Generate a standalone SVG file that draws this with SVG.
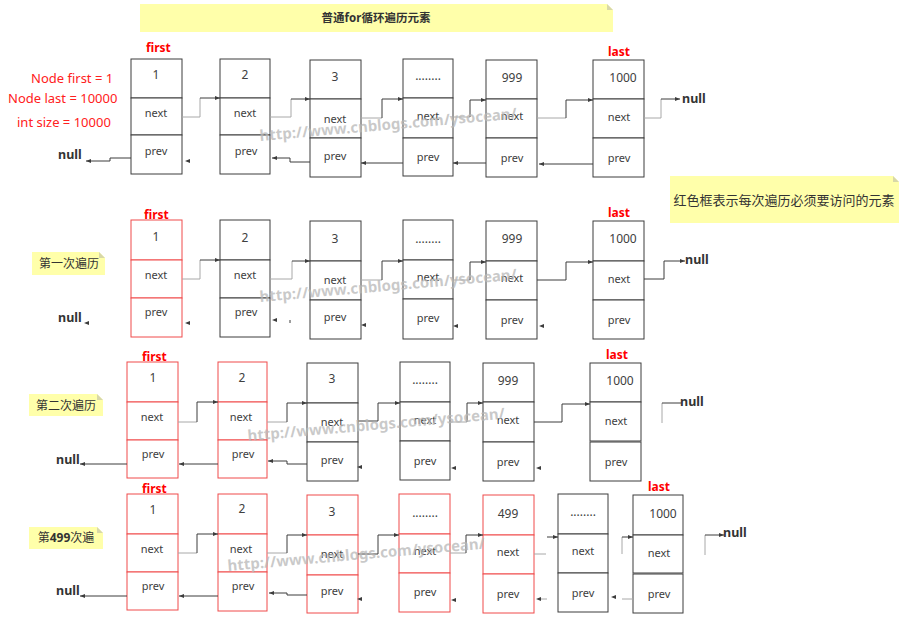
<svg xmlns="http://www.w3.org/2000/svg" width="903" height="617" viewBox="0 0 903 617">
<style>
text{font-family:"Noto Sans","Noto Sans CJK SC",sans-serif}
.b{fill:#fff;stroke:#3c3c3c;stroke-width:1}
.r{fill:#fff;stroke:#f04a4a;stroke-width:1}
.t{font-size:11px;fill:#404040;text-anchor:middle}
.n{font-size:12px;fill:#404040;text-anchor:middle}
.red{font-size:13px;fill:#ff2020}
.lab{font-size:12px;font-weight:bold;fill:#ff0000}
.nul{font-size:12.5px;font-weight:bold;fill:#333}
.note{fill:#ffffaa}
.fold{fill:#d8d8a8}
.cn{font-size:12px;fill:#333;text-anchor:middle}
.lg{fill:none;stroke:#a8a8a8;stroke-width:1}
.dk{fill:none;stroke:#3c3c3c;stroke-width:1}
.ah{fill:#3c3c3c}
.wm{font-size:15px;font-weight:bold;fill:#b8b8b8;fill-opacity:0.75}
</style>
<defs>
<marker id="a" markerWidth="6" markerHeight="6" refX="5" refY="3" orient="auto" markerUnits="userSpaceOnUse">
<path d="M0,1 L5,3 L0,5 Z" fill="#3c3c3c"/>
</marker>
</defs>

<!-- notes -->
<g id="title">
<polygon class="note" points="140,4 607,4 613,10 613,32 140,32"/>
<polygon class="fold" points="607,4 613,10 607,10"/>
<text x="376" y="22" style="font-size:11.5px;font-weight:bold;fill:#333;text-anchor:middle">普通for循环遍历元素</text>
</g>
<g id="note-red">
<polygon class="note" points="670,176 893,176 899,182 899,223 670,223"/>
<polygon class="fold" points="893,176 899,182 893,182"/>
<text x="784" y="205" style="font-size:13px;fill:#333;text-anchor:middle">红色框表示每次遍历必须要访问的元素</text>
</g>
<g id="label1">
<polygon class="note" points="32,252 99,252 105,258 105,275 32,275"/>
<polygon class="fold" points="99,252 105,258 99,258"/>
<text class="cn" x="69" y="268">第一次遍历</text>
</g>
<g id="label2">
<polygon class="note" points="29,394 97,394 103,400 103,416 29,416"/>
<polygon class="fold" points="97,394 103,400 97,400"/>
<text class="cn" x="66" y="410">第二次遍历</text>
</g>
<g id="label3">
<polygon class="note" points="29,527 97,527 103,533 103,549 29,549"/>
<polygon class="fold" points="97,527 103,533 97,533"/>
<text class="cn" x="66" y="542">第<tspan font-weight="bold">499</tspan>次遍</text>
</g>

<g id="vars">
<text class="red" x="31" y="83">Node first = 1</text>
<text class="red" x="8" y="103">Node last = 10000</text>
<text class="red" x="17" y="127">int size = 10000</text>
</g>

<!-- labels -->
<g id="labels">
<text class="lab" x="146" y="52">first</text>
<text class="lab" x="608" y="56">last</text>
<text class="lab" x="144" y="219">first</text>
<text class="lab" x="608" y="217">last</text>
<text class="lab" x="142" y="361">first</text>
<text class="lab" x="606" y="359">last</text>
<text class="lab" x="142" y="493">first</text>
<text class="lab" x="648" y="491">last</text>
<text class="nul" x="58" y="159">null</text>
<text class="nul" x="682" y="103">null</text>
<text class="nul" x="58" y="322">null</text>
<text class="nul" x="685" y="264">null</text>
<text class="nul" x="56" y="464">null</text>
<text class="nul" x="680" y="406">null</text>
<text class="nul" x="56" y="595">null</text>
<text class="nul" x="723" y="537">null</text>
</g>

<!-- Row 1 -->
<g id="r1n1"><rect class="b" x="131" y="59" width="51" height="39"/><rect class="b" x="131" y="98" width="51" height="37"/><rect class="b" x="131" y="135" width="51" height="39"/>
<text class="n" x="156" y="79">1</text><text class="t" x="156" y="117">next</text><text class="t" x="156" y="155">prev</text></g>
<g id="r1n2"><rect class="b" x="220" y="59" width="50" height="39"/><rect class="b" x="220" y="98" width="50" height="37"/><rect class="b" x="220" y="135" width="50" height="39"/>
<text class="n" x="245" y="79">2</text><text class="t" x="245" y="117">next</text><text class="t" x="246" y="155">prev</text></g>
<g id="r1n3"><rect class="b" x="310" y="60" width="51" height="39"/><rect class="b" x="310" y="99" width="51" height="39"/><rect class="b" x="310" y="138" width="51" height="39"/>
<text class="n" x="335" y="81">3</text><text class="t" x="335" y="123">next</text><text class="t" x="335" y="160">prev</text></g>
<g id="r1n4"><rect class="b" x="403" y="59" width="50" height="39"/><rect class="b" x="403" y="98" width="50" height="40"/><rect class="b" x="403" y="138" width="50" height="38"/>
<text class="n" x="428" y="80">........</text><text class="t" x="428" y="120">next</text><text class="t" x="428" y="161">prev</text></g>
<g id="r1n5"><rect class="b" x="486" y="60" width="51" height="39"/><rect class="b" x="486" y="99" width="51" height="39"/><rect class="b" x="486" y="138" width="51" height="39"/>
<text class="n" x="512" y="82">999</text><text class="t" x="512" y="120">next</text><text class="t" x="512" y="162">prev</text></g>
<g id="r1n6"><rect class="b" x="593" y="60" width="51" height="39"/><rect class="b" x="593" y="99" width="51" height="39"/><rect class="b" x="593" y="138" width="51" height="39"/>
<text class="n" x="623" y="82">1000</text><text class="t" x="619" y="121">next</text><text class="t" x="619" y="162">prev</text></g>

<!-- Row 2 -->
<g id="r2n1"><rect class="r" x="131" y="220" width="51" height="40"/><rect class="r" x="131" y="260" width="51" height="38"/><rect class="r" x="131" y="298" width="51" height="39"/>
<text class="n" x="156" y="241">1</text><text class="t" x="156" y="279">next</text><text class="t" x="156" y="316">prev</text></g>
<g id="r2n2"><rect class="b" x="220" y="220" width="50" height="40"/><rect class="b" x="220" y="260" width="50" height="38"/><rect class="b" x="220" y="298" width="50" height="39"/>
<text class="n" x="245" y="242">2</text><text class="t" x="245" y="279">next</text><text class="t" x="246" y="316">prev</text></g>
<g id="r2n3"><rect class="b" x="310" y="221" width="51" height="40"/><rect class="b" x="310" y="261" width="51" height="39"/><rect class="b" x="310" y="300" width="51" height="39"/>
<text class="n" x="335" y="243">3</text><text class="t" x="335" y="284">next</text><text class="t" x="335" y="321">prev</text></g>
<g id="r2n4"><rect class="b" x="403" y="220" width="50" height="40"/><rect class="b" x="403" y="260" width="50" height="39"/><rect class="b" x="403" y="299" width="50" height="40"/>
<text class="n" x="428" y="243">........</text><text class="t" x="428" y="281">next</text><text class="t" x="428" y="322">prev</text></g>
<g id="r2n5"><rect class="b" x="486" y="221" width="51" height="40"/><rect class="b" x="486" y="261" width="51" height="39"/><rect class="b" x="486" y="300" width="51" height="39"/>
<text class="n" x="512" y="243">999</text><text class="t" x="512" y="282">next</text><text class="t" x="512" y="324">prev</text></g>
<g id="r2n6"><rect class="b" x="593" y="221" width="51" height="40"/><rect class="b" x="593" y="261" width="51" height="39"/><rect class="b" x="593" y="300" width="51" height="39"/>
<text class="n" x="623" y="243">1000</text><text class="t" x="619" y="283">next</text><text class="t" x="619" y="324">prev</text></g>

<!-- Row 3 -->
<g id="r3n1"><rect class="r" x="127" y="362" width="51" height="40"/><rect class="r" x="127" y="402" width="51" height="38"/><rect class="r" x="127" y="440" width="51" height="38"/>
<text class="n" x="153" y="382">1</text><text class="t" x="152" y="421">next</text><text class="t" x="153" y="458">prev</text></g>
<g id="r3n2"><rect class="r" x="218" y="362" width="49" height="40"/><rect class="r" x="218" y="402" width="49" height="38"/><rect class="r" x="218" y="440" width="49" height="38"/>
<text class="n" x="242" y="382">2</text><text class="t" x="241" y="421">next</text><text class="t" x="243" y="458">prev</text></g>
<g id="r3n3"><rect class="b" x="307" y="363" width="51" height="40"/><rect class="b" x="307" y="403" width="51" height="39"/><rect class="b" x="307" y="442" width="51" height="39"/>
<text class="n" x="332" y="383">3</text><text class="t" x="332" y="426">next</text><text class="t" x="332" y="464">prev</text></g>
<g id="r3n4"><rect class="b" x="400" y="362" width="50" height="40"/><rect class="b" x="400" y="402" width="50" height="39"/><rect class="b" x="400" y="441" width="50" height="39"/>
<text class="n" x="425" y="384">........</text><text class="t" x="425" y="424">next</text><text class="t" x="425" y="465">prev</text></g>
<g id="r3n5"><rect class="b" x="483" y="363" width="51" height="39"/><rect class="b" x="483" y="402" width="51" height="40"/><rect class="b" x="483" y="442" width="51" height="39"/>
<text class="n" x="508" y="385">999</text><text class="t" x="508" y="424">next</text><text class="t" x="508" y="466">prev</text></g>
<g id="r3n6"><rect class="b" x="590" y="363" width="51" height="39"/><rect class="b" x="590" y="402" width="51" height="39"/><rect class="b" x="590" y="442" width="51" height="39"/>
<text class="n" x="620" y="385">1000</text><text class="t" x="616" y="425">next</text><text class="t" x="616" y="466">prev</text></g>

<!-- Row 4 -->
<g id="r4n1"><rect class="r" x="127" y="494" width="51" height="40"/><rect class="r" x="127" y="534" width="51" height="38"/><rect class="r" x="127" y="572" width="51" height="38"/>
<text class="n" x="153" y="514">1</text><text class="t" x="152" y="553">next</text><text class="t" x="153" y="590">prev</text></g>
<g id="r4n2"><rect class="r" x="218" y="494" width="49" height="40"/><rect class="r" x="218" y="534" width="49" height="38"/><rect class="r" x="218" y="572" width="49" height="39"/>
<text class="n" x="242" y="513">2</text><text class="t" x="241" y="553">next</text><text class="t" x="243" y="590">prev</text></g>
<g id="r4n3"><rect class="r" x="307" y="495" width="51" height="40"/><rect class="r" x="307" y="535" width="51" height="40"/><rect class="r" x="307" y="575" width="51" height="38"/>
<text class="n" x="332" y="516">3</text><text class="t" x="332" y="558">next</text><text class="t" x="332" y="595">prev</text></g>
<g id="r4n4"><rect class="r" x="399" y="494" width="51" height="40"/><rect class="r" x="399" y="534" width="51" height="39"/><rect class="r" x="399" y="573" width="51" height="39"/>
<text class="n" x="425" y="517">........</text><text class="t" x="425" y="555">next</text><text class="t" x="425" y="596">prev</text></g>
<g id="r4n5"><rect class="r" x="483" y="495" width="51" height="40"/><rect class="r" x="483" y="535" width="51" height="39"/><rect class="r" x="483" y="574" width="51" height="39"/>
<text class="n" x="508" y="518">499</text><text class="t" x="508" y="556">next</text><text class="t" x="508" y="598">prev</text></g>
<g id="r4n6"><rect class="b" x="558" y="494" width="50" height="40"/><rect class="b" x="558" y="534" width="50" height="39"/><rect class="b" x="558" y="573" width="50" height="39"/>
<text class="n" x="583" y="516">........</text><text class="t" x="583" y="555">next</text><text class="t" x="583" y="597">prev</text></g>
<g id="r4n7"><rect class="b" x="633" y="495" width="50" height="40"/><rect class="b" x="633" y="535" width="50" height="38"/><rect class="b" x="633" y="574" width="50" height="39"/>
<text class="n" x="663" y="518">1000</text><text class="t" x="659" y="557">next</text><text class="t" x="659" y="598">prev</text></g>

<!-- connectors -->
<g id="connectors">
<!-- row 1 next -->
<path class="lg" d="M182,117H200V98"/><path class="dk" d="M200,98H220" marker-end="url(#a)"/>
<path class="lg" d="M270,117H291V99"/><path class="dk" d="M291,99H310" marker-end="url(#a)"/>
<path class="lg" d="M361,118H382"/><path class="dk" d="M382,118V99H403" marker-end="url(#a)"/>
<path class="lg" d="M453,117H470"/><path class="dk" d="M470,117V100H486" marker-end="url(#a)"/>
<path class="lg" d="M537,118H566"/><path class="dk" d="M566,118V100H593" marker-end="url(#a)"/>
<path class="lg" d="M644,118H661V99"/><path class="dk" d="M661,99H680" marker-end="url(#a)"/>
<!-- row 1 prev -->
<path class="dk" d="M131,158H110V161H86" marker-end="url(#a)"/>
<polygon class="ah" points="185,161 190,159 190,163"/>
<path class="dk" d="M310,162H290V158H272" marker-end="url(#a)"/>
<path class="dk" d="M403,163H361" marker-end="url(#a)"/>
<path class="dk" d="M486,163H453" marker-end="url(#a)"/>
<path class="dk" d="M593,164H539" marker-end="url(#a)"/>

<!-- row 2 next -->
<path class="lg" d="M182,279H200V260"/><path class="dk" d="M200,260H220" marker-end="url(#a)"/>
<path class="lg" d="M270,279H292V261"/><path class="dk" d="M292,261H310" marker-end="url(#a)"/>
<path class="lg" d="M361,280H382"/><path class="dk" d="M382,280V261H403" marker-end="url(#a)"/>
<path class="lg" d="M453,280H470"/><path class="dk" d="M470,280V262H486" marker-end="url(#a)"/>
<path class="dk" d="M537,280H566V262H593" marker-end="url(#a)"/>
<path class="dk" d="M644,279H664V261H685" marker-end="url(#a)"/>
<!-- row 2 prev stubs -->
<polygon class="ah" points="84,323 89,321 89,325"/>
<polygon class="ah" points="185,323 190,321 190,325"/>
<polygon class="ah" points="272,320 277,318 277,322"/>
<path class="dk" d="M290,320V323"/>
<polygon class="ah" points="361,325 366,323 366,327"/>
<polygon class="ah" points="453,326 458,324 458,328"/>
<polygon class="ah" points="539,326 544,324 544,328"/>

<!-- row 3 next -->
<path class="lg" d="M178,422H197"/><path class="dk" d="M197,422V402H218" marker-end="url(#a)"/>
<path class="lg" d="M267,422H287"/><path class="dk" d="M287,422V403H307" marker-end="url(#a)"/>
<path class="dk" d="M358,421H378V403H400" marker-end="url(#a)"/>
<path class="lg" d="M450,422H467"/><path class="dk" d="M467,422V403H483" marker-end="url(#a)"/>
<path class="dk" d="M534,422H562V404H590" marker-end="url(#a)"/>
<path class="lg" d="M662,423V403"/><path class="dk" d="M662,403H681"/>
<!-- row 3 prev -->
<path class="dk" d="M127,464H80" marker-end="url(#a)"/>
<path class="dk" d="M218,464H179" marker-end="url(#a)"/>
<path class="dk" d="M307,464H287V461H268" marker-end="url(#a)"/>
<polygon class="ah" points="357,467 362,465 362,469"/>
<polygon class="ah" points="451,468 456,466 456,470"/>
<polygon class="ah" points="536,468 541,466 541,470"/>

<!-- row 4 next -->
<path class="lg" d="M178,553H197"/><path class="dk" d="M197,553V534H218" marker-end="url(#a)"/>
<path class="lg" d="M267,553H287"/><path class="dk" d="M287,553V535H307" marker-end="url(#a)"/>
<path class="dk" d="M358,554H378V535H399" marker-end="url(#a)"/>
<path class="lg" d="M450,553H466"/><path class="dk" d="M466,553V535H483" marker-end="url(#a)"/>
<path class="lg" d="M534,554H546"/><path class="dk" d="M547,537H558" marker-end="url(#a)"/>
<path class="lg" d="M622,554V537"/><path class="dk" d="M622,537H633" marker-end="url(#a)"/>
<path class="lg" d="M705,555V535"/><path class="dk" d="M705,535H724" marker-end="url(#a)"/>
<!-- row 4 prev -->
<path class="dk" d="M127,596H80" marker-end="url(#a)"/>
<path class="dk" d="M218,596H179" marker-end="url(#a)"/>
<path class="dk" d="M307,595H287V593H269" marker-end="url(#a)"/>
<polygon class="ah" points="357,599 362,597 362,601"/>
<polygon class="ah" points="451,600 456,598 456,602"/>
<polygon class="ah" points="536,599 541,597 541,601"/><path class="lg" d="M541,599H547"/>
<polygon class="ah" points="611,597 616,595 616,599"/><path class="lg" d="M622,599H633"/>
</g>

<!-- watermarks -->
<g id="watermark">
<text class="wm" x="260" y="141" transform="rotate(-5 260 141)">http://www.cnblogs.com/ysocean/</text>
<text class="wm" x="260" y="302" transform="rotate(-5 260 302)">http://www.cnblogs.com/ysocean/</text>
<text class="wm" x="248" y="441" transform="rotate(-5 248 441)">http://www.cnblogs.com/ysocean/</text>
<text class="wm" x="228" y="571" transform="rotate(-5 228 571)">http://www.cnblogs.com/ysocean/</text>
</g>
</svg>
